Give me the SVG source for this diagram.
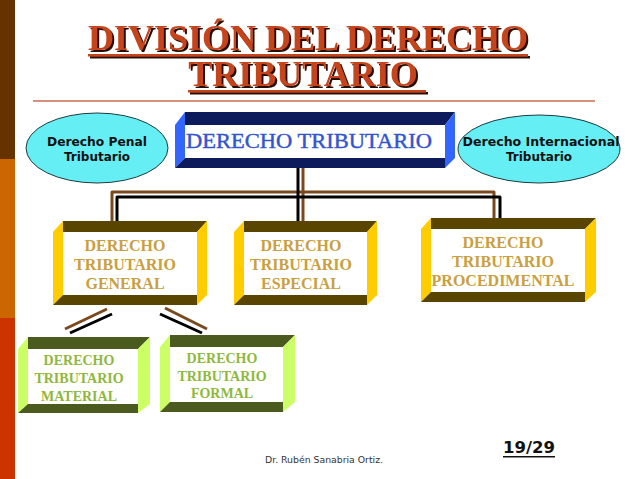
<svg xmlns="http://www.w3.org/2000/svg" width="638" height="479" viewBox="0 0 638 479">
<defs>
<filter id="shadow" x="-5%" y="-20%" width="110%" height="150%">
<feOffset in="SourceAlpha" dx="2" dy="2" result="off"/>
<feFlood flood-color="#2A0E04"/>
<feComposite in2="off" operator="in" result="sh"/>
<feMerge><feMergeNode in="sh"/><feMergeNode in="SourceGraphic"/></feMerge>
</filter>
</defs>
<style>
.title{font-family:"Liberation Serif","Times New Roman",serif;font-weight:bold;font-size:36px;text-anchor:middle;fill:#C4441E}
.tmain{fill:#C4441E}
.ell{fill:#66EEF5;stroke:#1E3C3C;stroke-width:1}
.etext{font-family:"DejaVu Sans",Verdana,sans-serif;font-weight:bold;font-size:12px;fill:#111;text-anchor:middle}
.mainface{fill:#0D1A5C}
.mainside{fill:#3366FF}
.front{fill:#FFFFFF}
.ydark{fill:#5A4500}
.ylight{fill:#FFCC00}
.ytext{font-family:"Liberation Serif","Times New Roman",serif;font-weight:bold;font-size:16px;fill:#C9A040;text-anchor:middle}
.gdark{fill:#4B5A1E}
.glight{fill:#CCFF66}
.gtext{font-family:"Liberation Serif","Times New Roman",serif;font-weight:bold;font-size:14px;fill:#8FB83A;text-anchor:middle}
.brown{fill:none;stroke:#7A4A1E;stroke-width:3;stroke-linejoin:round}
.black{fill:none;stroke:#000;stroke-width:3;stroke-linejoin:round}
</style>
<rect width="638" height="479" fill="#FFFFFF"/>
<g id="sidebar">
<rect x="0" y="0" width="15" height="159" fill="#663300"/>
<rect x="0" y="159" width="15" height="159" fill="#CC6600"/>
<rect x="0" y="318" width="15" height="161" fill="#CC3300"/>
</g>
<g id="title" filter="url(#shadow)">
<text class="title" x="308" y="50">DIVISIÓN DEL DERECHO</text>
<rect x="88" y="54" width="440" height="2.5" class="tmain"/>
<text class="title" x="303" y="86">TRIBUTARIO</text>
<rect x="188" y="90" width="238" height="2.5" class="tmain"/>
</g>
<line x1="33" y1="101" x2="595" y2="101" stroke="#D9907A" stroke-width="2"/>
<g id="connectors">
<path class="brown" d="M112,221 V192 H494 V218"/>
<path class="brown" d="M303,168 V221"/>
<path class="black" d="M117,221 V197 H500 V218"/>
<path class="black" d="M298,168 V221"/>
<line class="brown" x1="65" y1="329" x2="107" y2="309"/>
<line class="black" x1="70" y1="333" x2="112" y2="314"/>
<line class="brown" x1="165" y1="308" x2="207" y2="329"/>
<line class="black" x1="160" y1="314" x2="202" y2="333"/>
</g>
<g id="penal">
<ellipse class="ell" cx="97" cy="148" rx="71" ry="35"/>
<text class="etext" x="97" y="146" textLength="100" lengthAdjust="spacingAndGlyphs">Derecho Penal</text>
<text class="etext" x="97" y="161">Tributario</text>
</g>
<g id="internacional">
<ellipse class="ell" cx="539" cy="149" rx="81" ry="34"/>
<text class="etext" x="541" y="146" textLength="157" lengthAdjust="spacingAndGlyphs">Derecho Internacional</text>
<text class="etext" x="539" y="161">Tributario</text>
</g>
<g id="tributario">
<polygon class="mainface" points="185,112 455,112 445,125 185,125"/>
<polygon class="mainside" points="175,125 185,112 185,158 175,168"/>
<polygon class="mainface" points="175,168 185,158 445,158 445,168"/>
<polygon class="mainside" points="455,112 455,158 445,168 445,125"/>
<rect class="front" x="185" y="125" width="260" height="33"/>
<text x="309" y="148" font-family="Liberation Serif, Times New Roman, serif" font-size="20" fill="#3355CC" stroke="#3355CC" stroke-width="0.4" text-anchor="middle" textLength="246" lengthAdjust="spacingAndGlyphs">DERECHO TRIBUTARIO</text>
</g>
<g id="general">
<polygon class="ydark" points="63,221 207,221 197,232 63,232"/>
<polygon class="ylight" points="53,232 63,221 63,295 53,305"/>
<polygon class="ydark" points="53,305 63,295 197,295 197,305"/>
<polygon class="ylight" points="207,221 207,295 197,305 197,232"/>
<rect class="front" x="63" y="232" width="134" height="63"/>
<text class="ytext" x="125" y="251">DERECHO</text>
<text class="ytext" x="125" y="270">TRIBUTARIO</text>
<text class="ytext" x="125" y="289">GENERAL</text>
</g>
<g id="especial">
<polygon class="ydark" points="244,221 377,221 367,232 244,232"/>
<polygon class="ylight" points="234,232 244,221 244,295 234,305"/>
<polygon class="ydark" points="234,305 244,295 367,295 367,305"/>
<polygon class="ylight" points="377,221 377,295 367,305 367,232"/>
<rect class="front" x="244" y="232" width="123" height="63"/>
<text class="ytext" x="301" y="251">DERECHO</text>
<text class="ytext" x="301" y="270">TRIBUTARIO</text>
<text class="ytext" x="301" y="289">ESPECIAL</text>
</g>
<g id="procedimental">
<polygon class="ydark" points="431,218 596,218 585,229 431,229"/>
<polygon class="ylight" points="421,229 431,218 431,292 421,302"/>
<polygon class="ydark" points="421,302 431,292 585,292 585,302"/>
<polygon class="ylight" points="596,218 596,292 585,302 585,229"/>
<rect class="front" x="431" y="229" width="154" height="63"/>
<text class="ytext" x="503" y="248">DERECHO</text>
<text class="ytext" x="503" y="267">TRIBUTARIO</text>
<text class="ytext" x="503" y="286">PROCEDIMENTAL</text>
</g>
<g id="material">
<polygon class="gdark" points="28,337 150,337 138,349 28,349"/>
<polygon class="glight" points="18,349 28,337 28,404 18,413"/>
<polygon class="gdark" points="18,413 28,404 138,404 138,413"/>
<polygon class="glight" points="150,337 150,404 138,413 138,349"/>
<rect class="front" x="28" y="349" width="110" height="55"/>
<text class="gtext" x="79" y="365">DERECHO</text>
<text class="gtext" x="79" y="383">TRIBUTARIO</text>
<text class="gtext" x="79" y="401">MATERIAL</text>
</g>
<g id="formal">
<polygon class="gdark" points="170,335 295,335 283,347 170,347"/>
<polygon class="glight" points="160,347 170,335 170,402 160,412"/>
<polygon class="gdark" points="160,412 170,402 283,402 283,412"/>
<polygon class="glight" points="295,335 295,402 283,412 283,347"/>
<rect class="front" x="170" y="347" width="113" height="55"/>
<text class="gtext" x="222" y="363">DERECHO</text>
<text class="gtext" x="222" y="381">TRIBUTARIO</text>
<text class="gtext" x="222" y="398">FORMAL</text>
</g>
<g id="footer">
<text x="265" y="463" font-family="DejaVu Sans, Verdana, sans-serif" font-size="9" fill="#333333" textLength="118" lengthAdjust="spacingAndGlyphs">Dr. Rubén Sanabria Ortiz.</text>
<text x="503" y="453" font-family="DejaVu Sans, Verdana, sans-serif" font-size="15" font-weight="bold" fill="#111111" textLength="52" lengthAdjust="spacingAndGlyphs">19/29</text>
<rect x="503" y="456" width="52" height="1.5" fill="#111111"/>
</g>
</svg>
